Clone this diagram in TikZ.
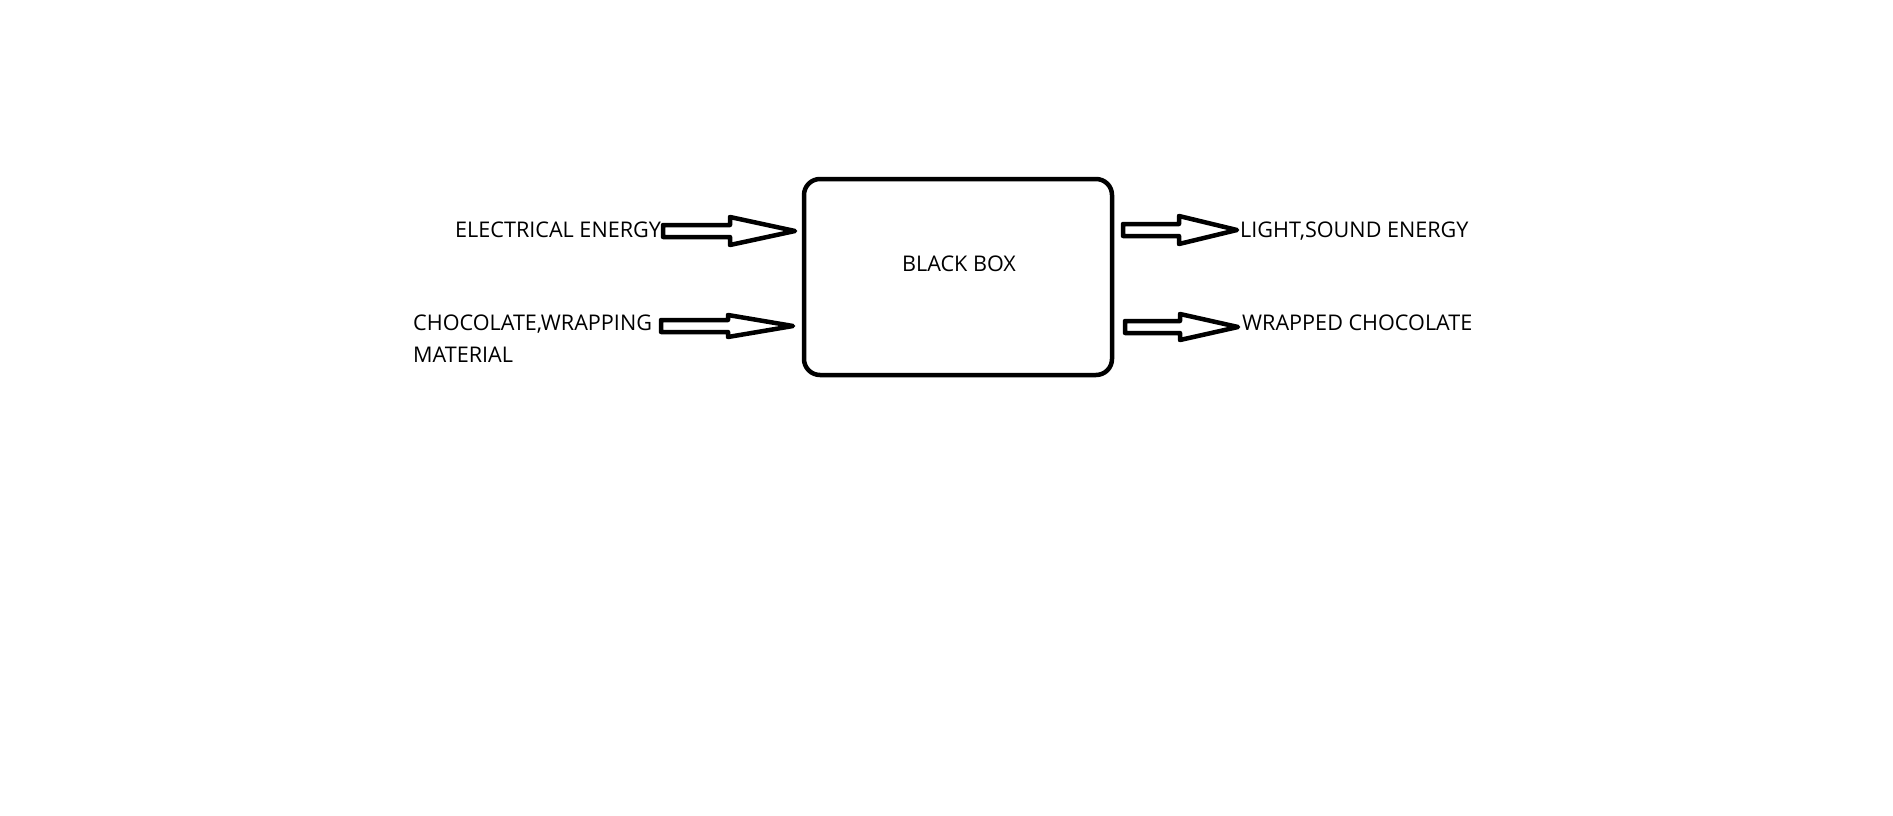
\documentclass[tikz,border=0pt]{standalone}
\usepackage{fontspec}
\setmainfont{Open Sans}
\begin{document}
\begin{tikzpicture}[x=1pt,y=-1pt,
  lbl/.style={inner sep=0pt,anchor=base west,font=\fontsize{21.6}{26}\selectfont},
  bbox/.style={draw,line width=4.5pt,rounded corners=16pt},
  barrow/.style={draw,line width=4.5pt,line join=round}]
\useasboundingbox (0,0) rectangle (1893,816);
\newcommand\blockarrow[6]{%
  \draw[barrow] (#1,#4-#5) -- (#2,#4-#5) -- (#2,#4-#6) -- (#3,#4) -- (#2,#4+#6) -- (#2,#4+#5) -- (#1,#4+#5) -- cycle;}
\draw[bbox] (804,179) rectangle (1112,375);
\node[lbl,anchor=base] (bb) at (959,271) {BLACK BOX};
\node[lbl] (ee) at (455,237) {ELECTRICAL ENERGY};
\node[lbl] (cw) at (413,330) {CHOCOLATE,WRAPPING};
\node[lbl] (mt) at (413,362) {MATERIAL};
\node[lbl] (ls) at (1240,237) {LIGHT,SOUND ENERGY};
\node[lbl] (wc) at (1242,330) {WRAPPED CHOCOLATE};
\blockarrow{663}{730}{795}{231}{6}{14}
\blockarrow{661}{728}{793}{326}{6}{11}
\blockarrow{1123}{1179}{1237}{230}{6}{14}
\blockarrow{1125}{1180}{1238}{327}{6}{13}
\end{tikzpicture}
\end{document}
